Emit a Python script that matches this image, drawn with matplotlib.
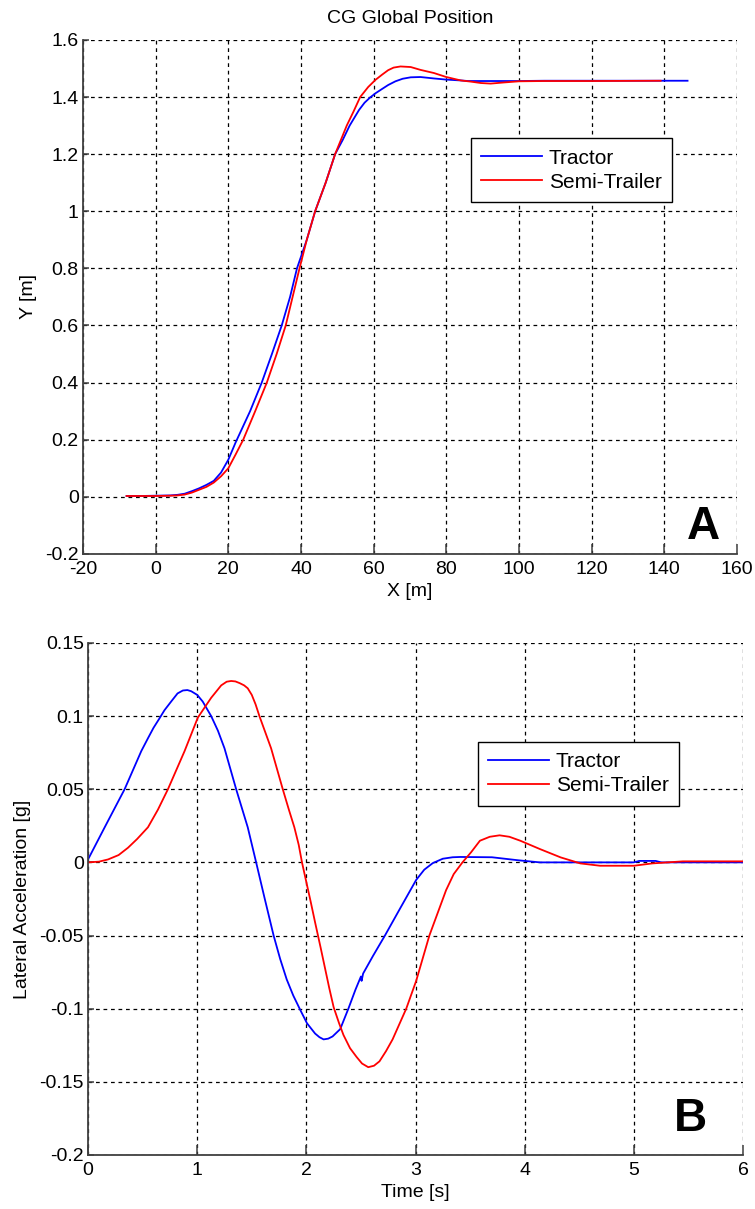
import matplotlib
matplotlib.use("Agg")
import matplotlib.pyplot as plt

plt.rcParams['font.family'] = ['Liberation Sans', 'DejaVu Sans']
plt.rcParams['axes.unicode_minus'] = False

# ---- CG global position ----
tractor_x = [-8, -4, 0, 4, 6, 8, 10, 12, 14, 16, 18, 20, 22, 24, 26, 29.2, 32, 34.7, 37,
             38.9, 41.6, 43.9, 46.8, 49.4, 51.5, 53.4, 56, 57.5, 59, 60.5, 62.3, 64, 66,
             68, 70.2, 72.9, 76.6, 80, 84, 86, 90, 100, 107, 120, 146.4]
tractor_y = [0.003, 0.003, 0.004, 0.005, 0.007, 0.011, 0.02, 0.03, 0.042, 0.056, 0.085,
             0.13, 0.19, 0.245, 0.3, 0.4, 0.5, 0.6, 0.7, 0.8, 0.9, 1.0, 1.1, 1.2, 1.25,
             1.3, 1.355, 1.38, 1.398, 1.413, 1.428, 1.442, 1.455, 1.464, 1.469, 1.47,
             1.465, 1.461, 1.458, 1.456, 1.456, 1.456, 1.457, 1.457, 1.457]

trailer_x = [-8, -4, 0, 4, 6, 8, 10, 12, 14, 16, 18, 20, 22, 24.1, 27.4, 30.6, 33.3, 35.8,
             37.7, 39.6, 41.6, 43.9, 46.8, 49.4, 51, 52.6, 54.5, 56.3, 58.5, 60.5, 62.3,
             64, 65.5, 67.4, 70.2, 72.9, 76.6, 80, 84, 86.7, 89.5, 92.2, 95.9, 100,
             106.9, 120, 139]
trailer_y = [0.003, 0.003, 0.003, 0.004, 0.005, 0.008, 0.015, 0.025, 0.035, 0.05, 0.072,
             0.1, 0.148, 0.2, 0.3, 0.4, 0.5, 0.6, 0.7, 0.8, 0.9, 1.0, 1.1, 1.2, 1.25,
             1.3, 1.35, 1.4, 1.435, 1.46, 1.478, 1.494, 1.503, 1.507, 1.505, 1.495,
             1.484, 1.47, 1.458, 1.454, 1.449, 1.447, 1.451, 1.455, 1.456, 1.456, 1.457]

# ---- lateral acceleration vs time ----
tractor_t = [0, 0.152, 0.335, 0.488, 0.55, 0.6, 0.655, 0.7, 0.762, 0.82, 0.869, 0.91,
             0.945, 1.0, 1.05, 1.128, 1.19, 1.25, 1.357, 1.463, 1.54, 1.616, 1.70, 1.76,
             1.82, 1.88, 1.945, 2.006, 2.08, 2.12, 2.158, 2.2, 2.24, 2.31, 2.385, 2.45,
             2.5, 2.506, 2.52, 2.61, 2.72, 2.855, 3.006, 3.08, 3.158, 3.25, 3.34, 3.41,
             3.7, 3.945, 4.14, 4.5, 5.0, 5.05, 5.2, 5.25, 6.0]
tractor_a = [0.002, 0.0239, 0.05, 0.0761, 0.085, 0.092, 0.0985, 0.104, 0.11, 0.1155,
             0.1175, 0.1178, 0.117, 0.1145, 0.11, 0.1, 0.09, 0.078, 0.05, 0.024, 0.0,
             -0.024, -0.05, -0.066, -0.08, -0.091, -0.101, -0.11, -0.117, -0.1195,
             -0.121, -0.1205, -0.119, -0.114, -0.1, -0.087, -0.078, -0.081, -0.076,
             -0.064, -0.05, -0.032, -0.012, -0.005, -0.0005, 0.0025, 0.0035, 0.0037,
             0.0035, 0.0014, 0.0, 0.0, 0.0, 0.001, 0.001, 0.0, 0.0]

trailer_t = [0, 0.1, 0.183, 0.28, 0.366, 0.45, 0.549, 0.64, 0.732, 0.884, 1.006, 1.128,
             1.22, 1.27, 1.311, 1.35, 1.39, 1.43, 1.463, 1.5, 1.535, 1.57, 1.677, 1.784,
             1.84, 1.89, 1.93, 1.96, 2.0, 2.04, 2.08, 2.13, 2.17, 2.21, 2.25, 2.3, 2.34,
             2.4, 2.46, 2.51, 2.567, 2.62, 2.67, 2.73, 2.79, 2.915, 3.006, 3.127, 3.28,
             3.35, 3.43, 3.51, 3.59, 3.68, 3.77, 3.86, 3.96, 4.14, 4.33, 4.51, 4.69, 5.0,
             5.17, 5.45, 6.0]
trailer_a = [0.0, 0.0005, 0.002, 0.005, 0.01, 0.016, 0.024, 0.036, 0.05, 0.076, 0.099,
             0.1125, 0.121, 0.1235, 0.124, 0.1237, 0.1225, 0.121, 0.119, 0.1145, 0.108,
             0.1, 0.078, 0.05, 0.036, 0.024, 0.012, 0.0, -0.0135, -0.027, -0.041,
             -0.058, -0.072, -0.086, -0.099, -0.11, -0.118, -0.127, -0.133, -0.1375,
             -0.14, -0.139, -0.136, -0.129, -0.121, -0.1, -0.081, -0.05, -0.019, -0.008,
             0.0, 0.007, 0.0148, 0.0175, 0.0185, 0.0175, 0.0148, 0.0091, 0.0034, -0.0007,
             -0.0023, -0.0023, -0.0007, 0.0007, 0.0007]

pos_xticks = [-20, 0, 20, 40, 60, 80, 100, 120, 140, 160]
pos_yticks = [-0.2, 0, 0.2, 0.4, 0.6, 0.8, 1, 1.2, 1.4, 1.6]
acc_xticks = [0, 1, 2, 3, 4, 5, 6]
acc_yticks = [-0.2, -0.15, -0.1, -0.05, 0, 0.05, 0.1, 0.15]


def style_axes(ax):
    for side in ['top', 'right']:
        ax.spines[side].set_visible(False)
    for side in ['left', 'bottom']:
        ax.spines[side].set_color('#404040')
        ax.spines[side].set_linewidth(1.3)
    ax.grid(True, color='black', linestyle=(0, (3, 3)), linewidth=0.9)
    ax.tick_params(axis='x', direction='in', length=7, width=1.1, color='#404040',
                   labelsize=14, pad=5)
    ax.tick_params(axis='y', direction='in', length=4, width=1.1, color='#404040',
                   labelsize=14, pad=3)


def add_legend(ax, anchor):
    leg = ax.legend(loc='upper left', bbox_to_anchor=anchor, fontsize=15,
                    fancybox=False, edgecolor='black', framealpha=1, handlelength=2.9,
                    borderpad=0.5, labelspacing=0.25, handletextpad=0.35,
                    borderaxespad=0)
    leg.get_frame().set_linewidth(1.0)


fig = plt.figure(figsize=(7.55, 12.09), dpi=100)

# panel A
ax1 = fig.add_axes([0.1099, 0.5418, 0.8662, 0.4252])
ax1.plot(tractor_x, tractor_y, color='#0000ff', lw=1.3, label='Tractor')
ax1.plot(trailer_x, trailer_y, color='#ff0000', lw=1.3, label='Semi-Trailer')
ax1.set_xlim(-20, 160)
ax1.set_ylim(-0.2, 1.6)
ax1.set_xticks(pos_xticks)
ax1.set_yticks(pos_yticks)
ax1.set_yticklabels(['%g' % v for v in pos_yticks])
style_axes(ax1)
ax1.set_title('CG Global Position', fontsize=14, pad=12)
ax1.set_xlabel('X [m]', fontsize=14, labelpad=4)
ax1.set_ylabel('Y [m]', fontsize=14, labelpad=6)
add_legend(ax1, (0.593, 0.809))
ax1.text(0.948, 0.0525, 'A', transform=ax1.transAxes, fontsize=33, fontweight='bold',
         ha='center', va='center')

# panel B
ax2 = fig.add_axes([0.1166, 0.0447, 0.8675, 0.4235])
ax2.plot(tractor_t, tractor_a, color='#0000ff', lw=1.3, label='Tractor')
ax2.plot(trailer_t, trailer_a, color='#ff0000', lw=1.3, label='Semi-Trailer')
ax2.set_xlim(0, 6)
ax2.set_ylim(-0.2, 0.15)
ax2.set_xticks(acc_xticks)
ax2.set_yticks(acc_yticks)
ax2.set_yticklabels(['%g' % v for v in acc_yticks])
style_axes(ax2)
ax2.set_xlabel('Time [s]', fontsize=14, labelpad=4)
ax2.set_ylabel('Lateral Acceleration [g]', fontsize=14, labelpad=6)
add_legend(ax2, (0.595, 0.807))
ax2.text(0.919, 0.070, 'B', transform=ax2.transAxes, fontsize=33, fontweight='bold',
         ha='center', va='center')

fig.savefig('out.png', dpi=100)
